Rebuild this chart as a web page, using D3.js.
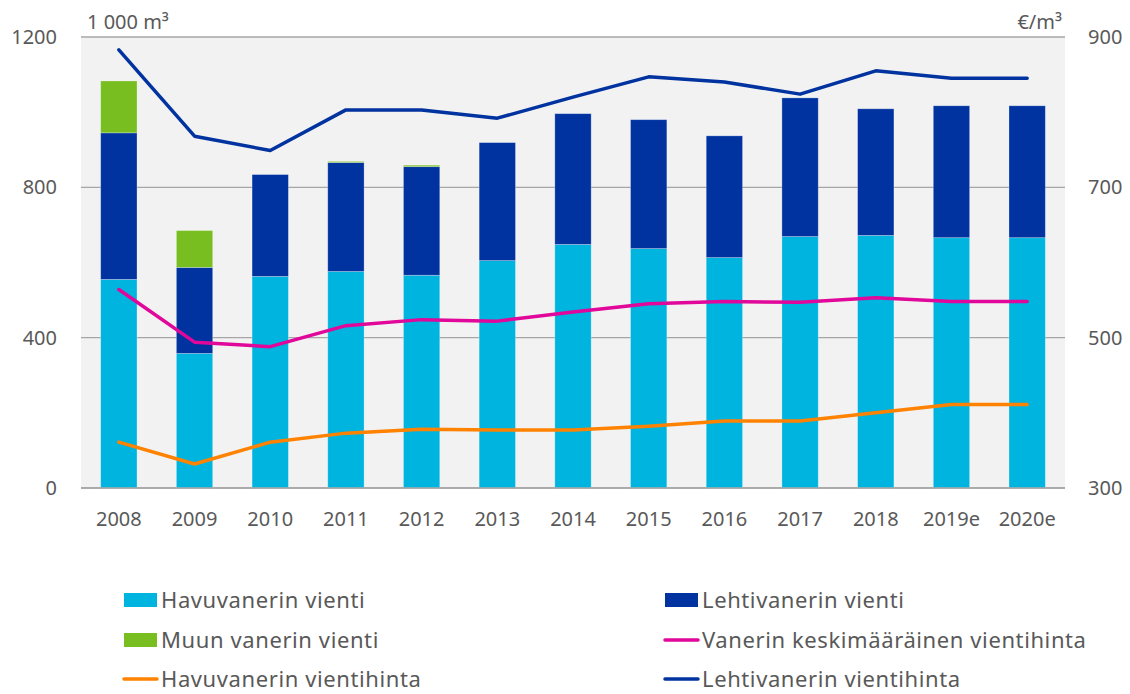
<!DOCTYPE html>
<html>
<head>
<meta charset="utf-8">
<script src="https://cdn.jsdelivr.net/npm/d3@7"></script>
<style>
  body { margin: 0; background: #fff; }
  text { font-family: "Noto Sans", "Open Sans", sans-serif; fill: #595959; }
</style>
</head>
<body>
<div id="chart"></div>
<script>
/////////////////////////////////////
///      DATA
/////////////////////////////////////

var years = ["2008","2009","2010","2011","2012","2013","2014","2015","2016","2017","2018","2019e","2020e"];

// export volumes, 1 000 m3 (left axis)
var havuVienti  = [555, 358, 563, 576, 566, 605, 648, 637, 613, 669, 672, 666, 666];
var lehtiVienti = [390, 229, 271, 290, 289, 314, 348, 343, 324, 369, 337, 351, 351];
var muuVienti   = [138,  98,   0,   3,   4,   0,   0,   0,   0,   0,   0,   0,   0];

// export prices, €/m3 (right axis)
var keskiHinta = [564, 494, 488, 516, 524, 522, 534, 545, 548, 547, 553, 548, 548];
var havuHinta  = [361, 332, 361, 373, 378, 377, 377, 382, 389, 389, 400, 411, 411];
var lehtiHinta = [883, 768, 749, 803, 803, 792, 820, 847, 840, 824, 855, 845, 845];

var leftTicks  = [0, 400, 800, 1200];
var rightTicks = [300, 500, 700, 900];

var width = 1130, height = 694;
var margin = {top: 37, right: 65, bottom: 206, left: 81};

/////////////////////////////////////
///      CHART
/////////////////////////////////////

var svg = d3.select("#chart").append("svg")
    .attr("width", width)
    .attr("height", height);

var x = d3.scaleBand()
    .domain(years)
    .range([margin.left, width - margin.right])
    .paddingInner(0.52)
    .paddingOuter(0.26);

var y = d3.scaleLinear().domain([0, 1200]).range([height - margin.bottom, margin.top]);
var y2 = d3.scaleLinear().domain([300, 900]).range([height - margin.bottom, margin.top]);

// plot background
svg.append("rect")
   .attr("x", margin.left).attr("y", margin.top)
   .attr("width", width - margin.right - margin.left)
   .attr("height", y(0) - margin.top)
   .attr("fill", "#f2f2f2");

// gridlines
svg.append("g").selectAll("line")
   .data(leftTicks)
   .join("line")
   .attr("x1", margin.left).attr("x2", width - margin.right)
   .attr("y1", function(d){ return y(d); }).attr("y2", function(d){ return y(d); })
   .attr("stroke", "#a6a6a6").attr("stroke-width", 1.3);

// stacked bars
var series = [
  {name: "Havuvanerin vienti", values: havuVienti, color: "#00b4e0"},
  {name: "Lehtivanerin vienti", values: lehtiVienti, color: "#0033a0"},
  {name: "Muun vanerin vienti", values: muuVienti, color: "#78be20"}
];

var rows = years.map(function(yr, i) {
  return {year: yr, havu: havuVienti[i], lehti: lehtiVienti[i], muu: muuVienti[i]};
});
var stack = d3.stack().keys(["havu", "lehti", "muu"])(rows);

svg.append("g").selectAll("g")
   .data(stack)
   .join("g")
   .attr("fill", function(d, i){ return series[i].color; })
   .selectAll("rect")
   .data(function(d){ return d; })
   .join("rect")
   .attr("x", function(d){ return x(d.data.year); })
   .attr("width", x.bandwidth())
   .attr("y", function(d){ return y(d[1]); })
   .attr("height", function(d){ return y(d[0]) - y(d[1]); })
   .attr("stroke", "#ffffff").attr("stroke-opacity", 0.35).attr("stroke-width", 0.8);

// price lines
var lines = [
  {name: "Vanerin keskimääräinen vientihinta", values: keskiHinta, color: "#e0079a"},
  {name: "Havuvanerin vientihinta", values: havuHinta, color: "#ff8200"},
  {name: "Lehtivanerin vientihinta", values: lehtiHinta, color: "#0033a0"}
];

var line = d3.line()
    .x(function(d, i){ return x(years[i]) + x.bandwidth() / 2; })
    .y(function(d){ return y2(d); });

svg.append("g").selectAll("path")
   .data(lines)
   .join("path")
   .attr("d", function(d){ return line(d.values); })
   .attr("fill", "none")
   .attr("stroke", function(d){ return d.color; })
   .attr("stroke-width", 3.5)
   .attr("stroke-linejoin", "round")
   .attr("stroke-linecap", "round");

// axes (labels only, Excel style)
var yAxis = d3.axisLeft(y).tickValues(leftTicks).tickFormat(d3.format("d")).tickSize(0).tickPadding(24);
svg.append("g")
   .attr("transform", "translate(" + margin.left + ",0)")
   .call(yAxis)
   .call(function(g){ g.select(".domain").remove(); })
   .selectAll("text").attr("font-size", 20).attr("fill", "#595959")
   .attr("font-family", "Noto Sans");

var yAxis2 = d3.axisRight(y2).tickValues(rightTicks).tickFormat(d3.format("d")).tickSize(0).tickPadding(23);
svg.append("g")
   .attr("transform", "translate(" + (width - margin.right) + ",0)")
   .call(yAxis2)
   .call(function(g){ g.select(".domain").remove(); })
   .selectAll("text").attr("font-size", 20).attr("fill", "#595959")
   .attr("font-family", "Noto Sans");

var xAxis = d3.axisBottom(x).tickSize(0).tickPadding(24);
svg.append("g")
   .attr("transform", "translate(0," + y(0) + ")")
   .call(xAxis)
   .call(function(g){ g.select(".domain").remove(); })
   .selectAll("text").attr("font-size", 20).attr("fill", "#595959")
   .attr("font-family", "Noto Sans");

// baseline
svg.append("line")
   .attr("x1", margin.left).attr("x2", width - margin.right)
   .attr("y1", y(0)).attr("y2", y(0))
   .attr("stroke", "#a6a6a6").attr("stroke-width", 1.5);

// unit labels
svg.append("text")
   .attr("x", 87).attr("y", 29)
   .attr("font-size", 20)
   .text("1 000 m³");
svg.append("text")
   .attr("x", width - margin.right - 3).attr("y", 29)
   .attr("text-anchor", "end")
   .attr("font-size", 20)
   .text("€/m³");

/////////////////////////////////////
///      LEGEND
/////////////////////////////////////

var legendItems = [
  {name: series[0].name, color: series[0].color, type: "box"},
  {name: series[1].name, color: series[1].color, type: "box"},
  {name: series[2].name, color: series[2].color, type: "box"},
  {name: lines[0].name, color: lines[0].color, type: "line"},
  {name: lines[1].name, color: lines[1].color, type: "line"},
  {name: lines[2].name, color: lines[2].color, type: "line"}
];
var colX = [124, 665];
var rowY = [600, 640, 679];

var legend = svg.append("g").selectAll("g")
   .data(legendItems)
   .join("g")
   .attr("transform", function(d, i){
      return "translate(" + colX[i % 2] + "," + rowY[Math.floor(i / 2)] + ")";
   });

legend.filter(function(d){ return d.type === "box"; })
   .append("rect")
   .attr("x", 0).attr("y", -7)
   .attr("width", 33).attr("height", 14)
   .attr("fill", function(d){ return d.color; });

legend.filter(function(d){ return d.type === "line"; })
   .append("line")
   .attr("x1", 0).attr("x2", 33)
   .attr("y1", 0).attr("y2", 0)
   .attr("stroke", function(d){ return d.color; })
   .attr("stroke-width", 3.5)
   .attr("stroke-linecap", "round");

legend.append("text")
   .attr("x", 37).attr("y", 8)
   .attr("font-size", 22)
   .attr("letter-spacing", 0.6)
   .text(function(d){ return d.name; });
</script>
</body>
</html>
